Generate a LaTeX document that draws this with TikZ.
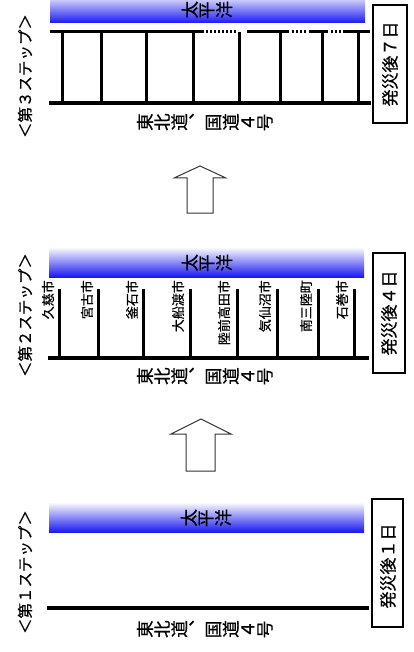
\documentclass[tikz,border=0pt]{standalone}
\usepackage{fontspec}
\newfontfamily\jp[FakeBold=0.6]{Noto Sans CJK JP}
\newcommand\rc[1]{\makebox[0.98em]{\rotatebox[origin=c]{90}{#1}}}
\newcommand\roadtext{\rc{東}\rc{北}\rc{道}\rc{︑}\rc{国}\rc{道}\rc{４}\rc{号}}
\newcommand\seatext{\rc{太}\rc{平}\rc{洋}}
\definecolor{seablue}{RGB}{25,25,240}
\begin{document}
\begin{tikzpicture}[x=1pt,y=-1pt,
  sea/.style={top color=white, bottom color=seablue, draw=none},
  road/.style={line width=4pt, black},
  rail/.style={line width=3pt, black},
  dotrail/.style={line width=3pt, black, dash pattern=on 2pt off 2pt},
  branch/.style={line width=3pt, black},
  seatxt/.style={font=\jp\fontsize{17.5}{17.5}\selectfont, inner sep=0pt},
  roadtxt/.style={font=\jp\fontsize{17.5}{17.5}\selectfont, inner sep=0pt},
  steptxt/.style={font=\jp\fontsize{15.5}{15.5}\selectfont, rotate=90, inner sep=0pt},
  daytxt/.style={font=\jp\fontsize{17}{17}\selectfont, rotate=90, inner sep=0pt},
  daybox/.style={draw=black, line width=1.5pt},
  city/.style={font=\jp\fontsize{13}{13}\selectfont, rotate=90, inner sep=0pt, anchor=east},
  blockarrow/.style={draw=black!80, line width=1pt, fill=white}
]
\useasboundingbox (0,0) rectangle (414,652);
\clip (0,0) rectangle (414,652);

% ================= Step 3 (top) =================
\shade[sea] (50,-7) rectangle (365,23);
\node[seatxt] (sea3) at (207,10) {\seatext};
% top (coastal) rail
\draw[rail] (50,32) -- (202,32);
\draw[dotrail] (202,32) -- (238,32);
\draw[rail] (247,32) -- (289,32);
\draw[dotrail] (292,32) -- (306,32);
\draw[rail] (309,32) -- (328,32);
\draw[dotrail] (331,32) -- (341,32);
\draw[rail] (343,32) -- (370,32);
% branches
\foreach \x in {62,101,146,193,239,280,322,358}
  \draw[branch] (\x,32) -- (\x,103);
\draw[road] (49,103) -- (371,103);
\node[roadtxt] (road3) at (205,122) {\roadtext};
\node[steptxt] (step3) at (25,76) {＜第３ステップ＞};
\draw[daybox] (373,5) rectangle (407,123);
\node[daytxt] (day3) at (390,64) {発災後７日};

% arrow 2 -> 3
\draw[blockarrow] (187,213) -- (187,178) -- (174,178) -- (200,166) -- (226,178) -- (213,178) -- (213,213) -- cycle;

% ================= Step 2 (middle) =================
\shade[sea] (49,247) rectangle (364,277);
\node[seatxt] (sea2) at (207,263) {\seatext};
\foreach \x in {59,98,143,190,237,277,318,354}
  \draw[branch] (\x,289) -- (\x,358);
\draw[road] (48,358) -- (369,358);
\node[city] (c1) at (48,280) {久慈市};
\node[city] (c2) at (87,280) {宮古市};
\node[city] (c3) at (132,280) {釜石市};
\node[city] (c4) at (178,280) {大船渡市};
\node[city] (c5) at (224,280) {陸前高田市};
\node[city] (c6) at (265,280) {気仙沼市};
\node[city] (c7) at (306,280) {南三陸町};
\node[city] (c8) at (342,280) {石巻市};
\node[roadtxt] (road2) at (205,376) {\roadtext};
\node[steptxt] (step2) at (25,315) {＜第２ステップ＞};
\draw[daybox] (373,253) rectangle (405,373);
\node[daytxt] (day2) at (389,313) {発災後４日};

% arrow 1 -> 2
\draw[blockarrow] (186,471) -- (186,434) -- (171,434) -- (201,419) -- (231,434) -- (215,434) -- (215,471) -- cycle;

% ================= Step 1 (bottom) =================
\shade[sea] (49,502) rectangle (364,532);
\node[seatxt] (sea1) at (206,518) {\seatext};
\draw[road] (47,608) -- (369,608);
\node[roadtxt] (road1) at (205,629) {\roadtext};
\node[steptxt] (step1) at (25,572) {＜第１ステップ＞};
\draw[daybox] (372,499) rectangle (403,627);
\node[daytxt] (day1) at (388,566) {発災後１日};
\end{tikzpicture}
\end{document}
